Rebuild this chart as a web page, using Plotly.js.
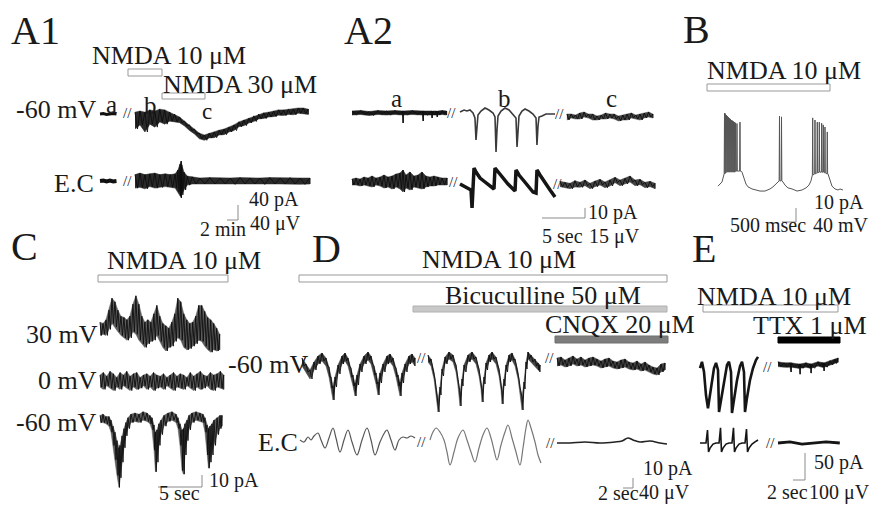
<!DOCTYPE html>
<html><head><meta charset="utf-8">
<script src="https://cdn.plot.ly/plotly-3.0.1.min.js"></script>
<style>html,body{margin:0;padding:0;background:#fff}#chart{width:879px;height:506px}</style>
</head><body><div id="chart"></div>
<script>
// ---------------- DATA ----------------
// A1: time in min, current in pA, field potential in µV
const A1_a_t = [0,0.6,1.2,1.8,2.4,3.0];
const A1_a_top = [0,1,-1,0,1,0];
const A1_a_ec = [0,1,-1,1,-1,0];
const A1_bc_dt = 0.9;
const A1_top_hi = [5,8,5,11,8,13,11,5,0,-8,-19,-29,-40,-51,-56,-51,-48,-43,-40,-35,-29,-21,-16,-11,-5,0,3,5,8,11,11,13,13,16,16,13];
const A1_top_lo = [-40,-29,-48,-27,-35,-21,-27,-19,-21,-23,-32,-44,-53,-66,-70,-64,-63,-56,-55,-48,-44,-34,-31,-24,-20,-13,-12,-8,-7,-3,-4,-1,-2,2,1,-1];
const A1_ec_t = [0,0.9,1.8,2.7,3.6,4.5,5.5,6.4,7.3,7.8,8.2,8.4,8.5,8.9,9.5,10.4,11.8,13.6,15.5,17.3,19.1,20.9,22.7,24.5,26.4,28.2,30.0,31.8];
const A1_ec_hi = [17,21,17,19,21,17,19,17,19,29,45,53,43,24,13,11,8,9,8,8,9,8,8,9,8,9,8,8];
const A1_ec_lo = [-19,-17,-21,-15,-19,-17,-15,-17,-19,-29,-40,-45,-37,-24,-11,-8,-8,-8,-8,-9,-8,-8,-9,-8,-8,-8,-9,-8];

// A2: time in s, current in pA, field potential in µV
const A2_a_top_t = [0,1,2,3,4,5,5.88,5.93,5.98,7,8.21,8.26,8.31,9.25,9.3,9.35,9.85,9.9,9.95,10.5,11];
const A2_a_top_hi = [2,2.5,1.5,2.5,2,2.5,2,1,2,2.5,2,1,2,2,1,2,2,1,2,2.5,2];
const A2_a_top_lo = [-2,-1.5,-2.5,-1.5,-2,-1.5,-2,-10,-2,-1.5,-2,-8,-2,-2,-5,-2,-2,-4,-2,-1.5,-2];
const A2_b_top_t = [0,0.47,0.81,1.16,1.51,1.74,1.86,1.98,2.09,2.44,2.91,3.37,3.84,4.07,4.19,4.3,4.42,4.77,5.23,5.7,6.16,6.51,6.63,6.74,6.86,7.21,7.56,8.02,8.49,8.84,8.95,9.07,9.19,9.53,10.0,10.47,11.05];
const A2_b_top = [1,3,2,3,0,-5,-27,-12,-2,2,5,3,0,-4,-39,-17,-3,2,5,3,-1,-5,-34,-15,-3,2,4,2,-1,-5,-32,-13,-4,-3,-1,-1,-1];
const A2_c_top_t = [0.8,1.3,1.8,2.3,2.8,3.3,3.8,4.3,4.8,5.3,5.8,6.3,6.8,7.3,7.8,8.3,8.8,9.3,9.8,10.3,10.8];
const A2_c_top_hi = [-1,-1,-2,0,1,-1,-1,-3,-2,0,-1,-1,-3,-2,-1,0,-2,-1,0,1,-1];
const A2_c_top_lo = [-7,-5,-6,-6,-4,-5,-7,-7,-6,-6,-5,-6,-8,-7,-7,-5,-6,-7,-5,-4,-5];
const A2_a_ec_t = [0,0.47,0.93,1.4,1.86,2.33,2.79,3.26,3.72,4.19,4.65,5.12,5.58,5.93,6.28,6.74,7.21,7.67,8.14,8.6,9.07,9.53,9.99,10.47,11.05];
const A2_a_ec_hi = [4.5,6,4.5,7.5,6,9,6,7.5,10.5,7.5,9,12,13.5,18,10.5,15,9,10.5,15,9,7.5,9,7.5,6,6];
const A2_a_ec_lo = [-4.5,-4.5,-6,-4.5,-6,-7.5,-4.5,-6,-9,-7.5,-10.5,-7.5,-10.5,-15,-9,-12,-7.5,-9,-10.5,-7.5,-6,-6,-4.5,-4.5,-4.5];
const A2_b_ec_t = [0,0.47,0.93,1.28,1.4,1.51,1.63,1.86,2.33,2.91,3.49,3.95,4.07,4.42,5.0,5.58,6.16,6.4,6.51,6.86,7.44,8.02,8.49,8.84,8.95,9.3,9.88,10.47,11.05];
const A2_b_ec = [-3,-6,-9,-12,-39,-12,21,15,6,0,-6,-10.5,21,15,6,-3,-10.5,-13.5,18,10.5,1.5,-7.5,-15,-16.5,18,10.5,-1.5,-12,-22.5];
const A2_c_ec_t = [0,0.58,1.16,1.74,2.33,2.91,3.49,4.07,4.65,5.23,5.81,6.4,6.98,7.56,8.14,8.72,9.3,9.88,10.47,11.05];
const A2_c_ec_hi = [1,-0.5,-2,2,-0.5,3,-2,1.5,4,0,3,7,3,5.5,9,3,4,-0.5,1,-2];
const A2_c_ec_lo = [-7,-8.5,-10,-7.5,-8,-5.5,-10,-7,-4.5,-8.5,-6,-1,-5.5,-3,0,-5.5,-4,-8.5,-7,-10];

// B: time in ms, membrane potential relative to rest in mV
const B_base_t = [0,71,143,179,214,821,857,928,1000,1071,1214,1357,1500,1678,1857,1964,2071,2143,2321,2393,2500,2643,2821,3000,3143,3250,3321,3357,3929,4000,4071,4179,4286,4357,4464];
const B_base_v = [11,17,23,34,46,54,51,34,17,9,3,0,-3,-3,3,9,17,23,23,14,6,3,-3,0,6,14,26,34,46,29,11,3,0,3,0];
const B_spike_t = [232,268,304,339,375,411,446,482,518,553,589,625,678,785,2196,2268,3382,3464,3546,3618,3703,3760,3821,3903];
const B_spike_peak = [220,218,214,211,208,205,203,200,198,196,194,192,190,194,211,209,206,200,194,194,191,186,180,166];
const B_spike_base = [46,49,51,51,51,51,51,51,51,51,51,54,54,54,26,26,43,46,49,51,51,51,49,46];

// C: time in s, current in pA at three holding potentials
const C_30_dt = 0.34;
const C_30_hi = [9,8,11,19,29,26,19,14,13,11,14,24,31,24,14,9,11,9,16,23,14,8,6,4,9,16,29,26,16,11,8,9,14,23,23,18,13,11,8,4,-1];
const C_30_lo = [-2,-1,-2,3,8,5,1,-2,-4,-6,-4,1,-1,-6,-9,-12,-9,-7,-6,-2,-7,-12,-15,-12,-11,-7,-4,-6,-12,-14,-13,-11,-9,-6,-7,-11,-14,-16,-14,-15,-14];
const C_0_dt = 0.38;
const C_0_hi = [5,7,4,8,6,3,7,5,8,4,6,7,3,5,6,4,7,5,4,6,3,5,7,4,6,5,3,7,4,6,8,5,4,7,5,6,8,5];
const C_0_lo = [-5,-7,-4,-6,-8,-5,-7,-4,-6,-8,-5,-7,-6,-4,-7,-5,-8,-6,-5,-7,-4,-6,-8,-5,-6,-7,-4,-6,-8,-5,-7,-6,-4,-7,-8,-5,-6,-7];
const C_60_t = [0,0.34,0.68,1.02,1.25,1.48,1.7,1.93,2.16,2.27,2.5,2.73,2.95,3.18,3.52,3.98,4.43,4.89,5.34,5.68,5.91,6.14,6.3,6.48,6.7,6.93,7.27,7.73,8.18,8.64,8.86,9.09,9.32,9.49,9.66,9.89,10.11,10.45,10.91,11.36,11.7,11.93,12.16,12.33,12.5,12.73,12.95,13.3,13.64,13.86];
const C_60_hi = [3,4,2,2,-1,-6,-11,-18,-24,-22,-14,-8,-3,1,4,5,4,6,5,3,1,-5,-11,-9,-4,-1,3,5,6,4,1,-4,-9,-8,-4,-1,3,5,6,5,4,1,-5,-8,-6,-4,-1,1,3,3];
const C_60_lo = [-3,-3,-4,-6,-11,-22,-34,-47,-57,-49,-36,-24,-14,-8,-3,-2,-3,-1,-2,-4,-9,-26,-44,-36,-22,-13,-6,-2,-1,-3,-8,-22,-43,-46,-30,-18,-9,-3,-1,-2,-3,-11,-30,-41,-36,-30,-22,-13,-8,-6];

// D: time in s, current in pA, field potential in µV
const D_1_top_t = [1.0,1.8,2.6,3.4,4.2,5.0,5.8,6.4,6.8,7.2,7.6,8.2,9.0,9.6,10.2,10.8,11.2,11.6,12.0,12.6,13.4,14.2,14.8,15.4,15.8,16.2,16.6,17.2,18.0,18.6,19.2,19.8,20.2,20.6,21.0,21.6,22.4,23.0,23.6];
const D_1_top_hi = [2,-4,-10,-2,4,7,2,-7,-17,-26,-17,-5,4,7,2,-8,-15,-23,-15,-4,4,8,4,-6,-13,-22,-13,-4,4,6,2,-8,-15,-22,-13,-4,4,6,2];
const D_1_top_lo = [-6,-12,-19,-10,-4,-1,-6,-17,-28,-40,-27,-14,-4,-1,-6,-17,-26,-36,-25,-12,-4,0,-4,-15,-24,-35,-23,-12,-4,-2,-6,-17,-26,-36,-23,-12,-4,-2,-6];
const D_2_top_t = [0,0.6,1.2,1.6,2.0,2.4,2.8,3.4,4.2,5.0,5.6,6.0,6.4,6.8,7.2,8.0,8.8,9.6,10.2,10.6,10.8,11.2,11.6,12.2,12.8,13.6,14.2,14.6,14.8,15.2,15.6,16.2,16.8,17.4,18.0,18.4,18.8,19.2,19.6,20.0,20.6,21.4,22.0,22.4];
const D_2_top_hi = [5,1,-12,-27,-40,-27,-9,3,8,5,-5,-19,-33,-19,-5,5,8,3,-9,-22,-30,-17,-3,5,8,3,-9,-23,-32,-19,-5,5,7,1,-12,-27,-37,-22,-2,8,5,1,-3,-5];
const D_2_top_lo = [-2,-6,-19,-35,-52,-35,-16,-4,1,-2,-12,-26,-46,-26,-12,-2,1,-4,-16,-29,-42,-24,-10,-2,1,-4,-16,-30,-44,-26,-12,-2,0,-6,-19,-34,-50,-29,-9,1,-2,-6,-10,-12];
const D_3_top_dt = 0.8;
const D_3_top_hi = [2,3,0,2,4,1,3,0,2,3,1,-1,1,2,-1,-2,0,1,-2,-3,-1,-4,-2,-5,-7,-8,-4,-3];
const D_3_top_lo = [-6,-5,-7,-6,-4,-6,-5,-7,-6,-5,-6,-8,-7,-6,-8,-9,-8,-7,-9,-10,-9,-11,-10,-12,-14,-15,-12,-10];
const D_1_ec_t = [0.6,1.4,2.2,2.8,3.4,4.2,4.8,5.6,6.4,7.2,7.8,8.6,9.4,10.2,11.0,12.0,13.0,14.0,14.8,15.6,16.6,17.6,18.0,18.8,19.6,20.4,21.2,22.0,22.8,23.6];
const D_1_ec = [8,0,20,8,24,36,8,-24,16,56,16,-40,8,48,0,-52,8,56,8,-52,0,40,48,8,-32,8,20,16,24,16];
const D_2_ec_t = [0.4,1.0,1.6,2.4,3.2,3.8,4.4,5.2,6.0,7.0,7.8,8.6,9.4,10.2,11.0,11.8,12.6,13.2,13.8,14.6,15.4,16.0,16.8,17.6,18.4,19.0,19.6,20.0,20.6,21.4,22.0,22.6];
const D_2_ec = [8,40,56,40,8,-40,-92,-40,16,48,8,-40,-80,-24,28,56,16,-32,-72,-12,40,68,16,-40,-92,-24,56,88,56,0,-52,-84];
const D_3_ec_t = [0,2.6,5.6,8.6,11.6,13.0,14.2,15.2,16.6,18.6,20.6,22.0];
const D_3_ec = [-4,-4,0,-4,0,4,16,8,0,4,-4,-8];

// E: time in s, current in pA, field potential in µV
const E_1_top_t = [0,0.33,0.67,1.0,1.33,1.67,2.0,2.33,2.67,3.0,3.17,3.5,4.0,4.5,4.83,5.17,5.33,5.67,6.17,6.67,7.0,7.33,7.5,7.83,8.33,8.83,9.33,9.67];
const E_1_top = [-6,6,-13,-56,-80,-56,-28,-6,4,-9,-87,-65,-28,0,6,-13,-89,-65,-28,-2,6,-13,-87,-61,-28,-6,9,15];
const E_2_top_t = [0,1.0,2.0,2.12,2.17,2.22,3.33,3.62,3.67,3.72,4.67,5.33,5.45,5.5,5.55,6.67,7.33,7.62,7.67,7.72,8.67,9.5,10.0];
const E_2_top_hi = [6,4,4,4,2,4,2,2,0,2,4,2,2,0,2,6,4,4,2,4,8,11,13];
const E_2_top_lo = [-3,-4,-4,-4,-13,-4,-6,-6,-17,-6,-4,-6,-6,-15,-6,-2,-4,-4,-11,-4,0,3,5];
const E_1_ec_t = [0,0.5,1.0,1.25,1.42,1.67,2.17,2.67,3.17,3.42,3.58,3.83,4.33,4.83,5.33,5.58,5.75,6.0,6.5,7.0,7.5,7.75,7.92,8.17,8.67,9.17,9.67];
const E_1_ec = [0,0,0,48,-33,-19,-4,0,0,56,-33,-19,-4,0,0,56,-33,-19,-4,0,0,52,-33,-19,-4,4,11];
const E_2_ec_t = [0,2,4,6,8,10.3];
const E_2_ec = [0,4,-4,0,4,0];

// ---------------- LAYOUT HELPERS ----------------
const W = 879, H = 506;
const FONT = 'Liberation Serif, Times New Roman, serif';
const layout = {width:W, height:H, margin:{l:0,r:0,t:0,b:0}, paper_bgcolor:'#fff',
  plot_bgcolor:'rgba(0,0,0,0)', showlegend:false, annotations:[], shapes:[], hovermode:false};
let nx = 0, ny = 0;
function newX(x0, x1, pxPerUnit) {
  nx++; const k = nx === 1 ? 'xaxis' : 'xaxis' + nx; const pad = 3;
  layout[k] = {domain:[(x0 - pad) / W, (x1 + pad) / W], range:[-pad / pxPerUnit, (x1 - x0 + pad) / pxPerUnit],
    visible:false, fixedrange:true, anchor:'free', position:0};
  return nx === 1 ? 'x' : 'x' + nx;
}
function newY(yTop, yBot, yb, pxPerUnit) {
  ny++; const k = ny === 1 ? 'yaxis' : 'yaxis' + ny;
  layout[k] = {domain:[1 - yBot / H, 1 - yTop / H], range:[(yb - yBot) / pxPerUnit, (yb - yTop) / pxPerUnit],
    visible:false, fixedrange:true, anchor:'free', position:0};
  return ny === 1 ? 'y' : 'y' + ny;
}
function uni(n, dt) { const a = []; for (let i = 0; i < n; i++) a.push(+(i * dt).toFixed(3)); return a; }
const traces = [];
// noisy recording: envelope filled in dark grey, plus a black line zig-zagging between its edges
function noisy(t, hi, lo, xa, ya, fill) {
  traces.push({type:'scatter', mode:'lines', x:t.concat(t.slice().reverse()), y:hi.concat(lo.slice().reverse()),
    xaxis:xa, yaxis:ya, fill:'toself', fillcolor:fill || '#5c5c5c', line:{color:fill || '#5c5c5c', width:0.5}, hoverinfo:'skip'});
  const zx = [], zy = [];
  t.forEach((ti, i) => {
    zx.push(ti); zy.push(hi[i]);
    const tn = i < t.length - 1 ? (ti + t[i + 1]) / 2 : ti;
    zx.push(tn); zy.push(lo[i]);
  });
  traces.push({type:'scatter', mode:'lines', x:zx, y:zy, xaxis:xa, yaxis:ya,
    line:{color:'#0d0d0d', width:0.9}, hoverinfo:'skip'});
}
function ln(t, v, xa, ya, color, width, shape) {
  traces.push({type:'scatter', mode:'lines', x:t, y:v, xaxis:xa, yaxis:ya,
    line:{color:color, width:width, shape:shape || 'linear'}, hoverinfo:'skip'});
}
const px = (x) => x / W, py = (y) => 1 - y / H;
function txt(s, x, y, size, opts) {
  layout.annotations.push(Object.assign({text:s, xref:'paper', yref:'paper', x:px(x), y:py(y),
    xanchor:'left', yanchor:'middle', showarrow:false, borderpad:0,
    font:{family:FONT, size:size, color:'#1a1a1a'}}, opts || {}));
}
function bar(x0, y0, x1, y1, fill, edge) {
  layout.shapes.push({type:'rect', xref:'paper', yref:'paper', x0:px(x0), x1:px(x1), y0:py(y1), y1:py(y0),
    fillcolor:fill, line:{color:edge, width:1}});
}
function seg(x0, y0, x1, y1) {
  layout.shapes.push({type:'line', xref:'paper', yref:'paper', x0:px(x0), x1:px(x1), y0:py(y0), y1:py(y1),
    line:{color:'#8a8a8a', width:1}});
}
function brk(x, y) { txt('//', x, y, 15, {xanchor:'center', font:{family:FONT, size:15, color:'#222'}}); }

// ---------------- PANEL A1 ----------------
const xA1a = newX(100, 117, 5.5), xA1bc = newX(135, 310, 5.5);
const yA1t = newY(85, 150, 114, 0.375), yA1e = newY(152, 205, 181, 0.375);
ln(A1_a_t, A1_a_top, xA1a, yA1t, '#111', 3);
ln(A1_a_t, A1_a_ec, xA1a, yA1e, '#111', 4);
noisy(uni(A1_top_hi.length, A1_bc_dt), A1_top_hi, A1_top_lo, xA1bc, yA1t, '#2a2a2a');
noisy(A1_ec_t, A1_ec_hi, A1_ec_lo, xA1bc, yA1e, '#2a2a2a');

// ---------------- PANEL A2 ----------------
const xA2a = newX(352, 447, 8.6), xA2b = newX(460, 555, 8.6), xA2c = newX(560, 655, 8.6);
const yA2t = newY(95, 158, 113, 1), yA2e = newY(158, 215, 182, 1 / 1.5);
noisy(A2_a_top_t, A2_a_top_hi, A2_a_top_lo, xA2a, yA2t, '#1a1a1a');
ln(A2_b_top_t, A2_b_top, xA2b, yA2t, '#3a3a3a', 1.6);
noisy(A2_c_top_t, A2_c_top_hi, A2_c_top_lo, xA2c, yA2t, '#444');
noisy(A2_a_ec_t, A2_a_ec_hi, A2_a_ec_lo, xA2a, yA2e, '#333');
ln(A2_b_ec_t, A2_b_ec, xA2b, yA2e, '#151515', 3.5);
noisy(A2_c_ec_t, A2_c_ec_hi, A2_c_ec_lo, xA2c, yA2e, '#444');

// ---------------- PANEL B ----------------
const xB = newX(718, 843, 0.028), yB = newY(105, 200, 190, 0.35);
(function () {
  const pts = B_base_t.map((t, i) => [t, B_base_v[i]]);
  B_spike_t.forEach((t, i) => { pts.push([t - 12, B_spike_base[i]], [t, B_spike_peak[i]], [t + 12, B_spike_base[i]]); });
  pts.sort((a, b) => a[0] - b[0]);
  ln(pts.map(p => p[0]), pts.map(p => p[1]), xB, yB, '#555', 1);
})();

// ---------------- PANEL C ----------------
const xC = newX(100, 228, 8.8);
const yC30 = newY(285, 365, 333, 1.2), yC0 = newY(365, 400, 381, 1.2), yC60 = newY(400, 495, 419, 1.2);
noisy(uni(C_30_hi.length, C_30_dt), C_30_hi, C_30_lo, xC, yC30);
noisy(uni(C_0_hi.length, C_0_dt), C_0_hi, C_0_lo, xC, yC0);
noisy(C_60_t, C_60_hi, C_60_lo, xC, yC60);

// ---------------- PANEL D ----------------
const xD1 = newX(297, 415, 5), xD2 = newX(428, 542, 5), xD3 = newX(557, 668, 5);
const yDt = newY(340, 415, 360, 1), yDe = newY(415, 475, 442, 0.25);
noisy(D_1_top_t, D_1_top_hi, D_1_top_lo, xD1, yDt, '#444');
noisy(D_2_top_t, D_2_top_hi, D_2_top_lo, xD2, yDt, '#444');
noisy(uni(D_3_top_hi.length, D_3_top_dt), D_3_top_hi, D_3_top_lo, xD3, yDt, '#444');
ln(D_1_ec_t, D_1_ec, xD1, yDe, '#555', 1.2, 'spline');
ln(D_2_ec_t, D_2_ec, xD2, yDe, '#777', 1.2, 'spline');
ln(D_3_ec_t, D_3_ec, xD3, yDe, '#222', 1.6, 'spline');

// ---------------- PANEL E ----------------
const xE1 = newX(700, 762, 6), xE2 = newX(778, 840, 6);
const yEt = newY(345, 420, 365, 0.54), yEe = newY(420, 462, 443, 0.27);
ln(E_1_top_t, E_1_top, xE1, yEt, '#151515', 2.6);
noisy(E_2_top_t, E_2_top_hi, E_2_top_lo, xE2, yEt, '#222');
ln(E_1_ec_t, E_1_ec, xE1, yEe, '#151515', 1.6);
ln(E_2_ec_t, E_2_ec, xE2, yEe, '#151515', 2.8);

// ---------------- TEXT, DRUG BARS, SCALE BARS ----------------
// panel letters
txt('A1', 10, 31, 40); txt('A2', 343, 31, 40); txt('B', 682, 30, 40);
txt('C', 10, 246, 40); txt('D', 311, 248, 40); txt('E', 691, 248, 40);
// drug labels and application bars
txt('NMDA 10 μM', 91, 55, 26); txt('NMDA 30 μM', 162, 84, 26);
bar(128, 69, 162, 76, '#fff', '#999'); bar(162, 93, 205, 99, '#fff', '#999');
txt('NMDA 10 μM', 706, 70.5, 26); bar(707, 84, 830, 91, '#fff', '#999');
txt('NMDA 10 μM', 106, 260.5, 26); bar(98, 275, 228, 282, '#fff', '#999');
txt('NMDA 10 μM', 421, 259.5, 26); bar(299, 275, 667, 282, '#fff', '#999');
txt('Bicuculline 50 μM', 444, 295, 26); bar(413, 306, 667, 312, '#c8c8c8', '#b0b0b0');
txt('CNQX 20 μM', 544, 324.5, 26); bar(555, 336, 668, 343, '#7d7d7d', '#707070');
txt('NMDA 10 μM', 696, 296.5, 26); bar(703, 305, 838, 312, '#fff', '#999');
txt('TTX 1 μM', 752, 325, 26); bar(778, 337, 840, 343, '#000', '#000');
// trace labels
txt('-60 mV', 15, 110, 26); txt('E.C', 53, 183.5, 26);
txt('a', 105, 104, 25); txt('b', 143, 105, 25); txt('c', 201, 111, 23);
txt('a', 390, 99, 25); txt('b', 497, 99, 25); txt('c', 605, 99, 25);
txt('30 mV', 25, 334, 26); txt('0 mV', 37, 380, 26); txt('-60 mV', 15, 422, 26);
txt('-60 mV', 227, 364, 26); txt('E.C', 257, 442, 26);
// break marks
brk(127, 113); brk(127, 181); brk(452, 113); brk(559, 114); brk(454, 182); brk(557, 184);
brk(421, 358); brk(549, 358); brk(421, 442); brk(550, 443); brk(767, 367); brk(770, 443);
// scale bars
seg(238, 205, 238, 220); seg(227, 220, 238, 220);
txt('40 pA', 248, 200, 20); txt('2 min', 199, 229, 20); txt('40 μV', 249, 223, 20);
seg(542, 218, 585, 218); seg(585, 208, 585, 218);
txt('10 pA', 587, 212, 20); txt('5 sec', 541, 236, 20); txt('15 μV', 588, 236, 20);
seg(796, 208, 796, 222); seg(782, 222, 796, 222);
txt('10 pA', 813, 202.5, 20); txt('500 msec', 729, 225, 20); txt('40 mV', 812, 225, 20);
seg(158, 487, 202, 487); seg(202, 475, 202, 487);
txt('10 pA', 208, 480, 20); txt('5 sec', 158, 493, 20);
seg(633, 478, 633, 488); seg(623, 488, 633, 488);
txt('10 pA', 642, 468, 20); txt('2 sec', 597, 493, 20); txt('40 μV', 638, 492, 20);
seg(805, 453, 805, 480); seg(793, 480, 805, 480);
txt('50 pA', 813, 462, 20); txt('2 sec', 766, 492, 20); txt('100 μV', 808, 492, 20);

Plotly.newPlot('chart', traces, layout, {staticPlot:true, displayModeBar:false});
</script></body></html>
